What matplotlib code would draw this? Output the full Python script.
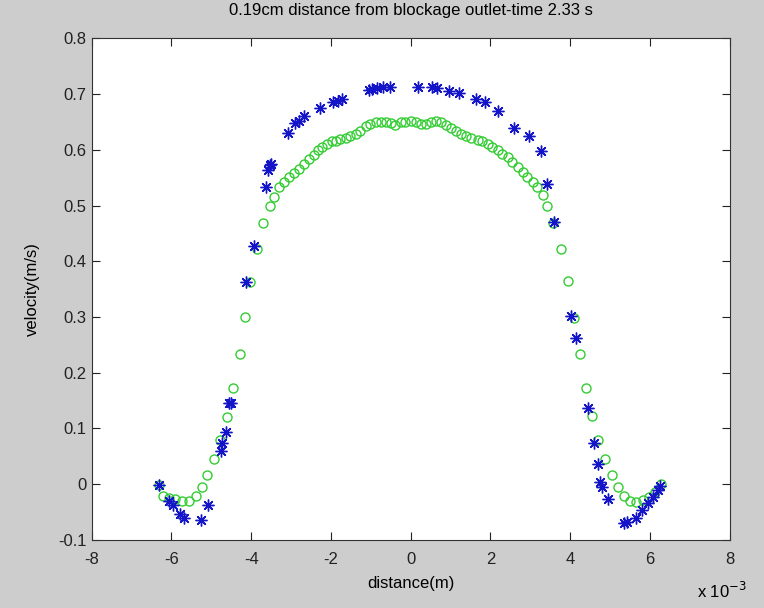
import matplotlib
matplotlib.use("Agg")
import matplotlib.pyplot as plt
from matplotlib.ticker import FuncFormatter

# distance in units of 1e-3 m, velocity in m/s
blue_x = [-6.32, -6.05, -5.96, -5.78, -5.68, -5.26, -5.08, -4.76, -4.73, -4.64,
          -4.56, -4.50, -4.12, -3.94, -3.64, -3.59, -3.54, -3.50, -3.08, -2.89,
          -2.81, -2.68, -2.28, -1.94, -1.83, -1.71, -1.05, -0.96, -0.84, -0.69,
          -0.52, 0.18, 0.54, 0.67, 0.96, 1.21, 1.63, 1.86, 2.18, 2.58,
          2.97, 3.27, 3.42, 3.59, 4.02, 4.15, 4.45, 4.61, 4.70, 4.76,
          4.81, 4.96, 5.36, 5.42, 5.65, 5.80, 5.95, 6.07, 6.20, 6.26]
blue_v = [-0.002, -0.030, -0.038, -0.054, -0.060, -0.065, -0.038, 0.060, 0.074, 0.094,
          0.145, 0.145, 0.363, 0.427, 0.534, 0.564, 0.572, 0.575, 0.630, 0.648,
          0.652, 0.661, 0.675, 0.685, 0.688, 0.691, 0.707, 0.709, 0.711, 0.712,
          0.712, 0.712, 0.713, 0.711, 0.706, 0.701, 0.691, 0.685, 0.670, 0.639,
          0.624, 0.597, 0.538, 0.470, 0.301, 0.262, 0.137, 0.074, 0.037, 0.004,
          -0.005, -0.027, -0.070, -0.068, -0.060, -0.047, -0.033, -0.023, -0.011, -0.004]

green_x = [-6.32, -6.21, -6.07, -5.90, -5.74, -5.56, -5.39, -5.24, -5.11, -4.94,
           -4.77, -4.61, -4.45, -4.29, -4.16, -4.02, -3.85, -3.70, -3.54, -3.42,
           -3.31, -3.18, -3.06, -2.93, -2.81, -2.68, -2.55, -2.43, -2.33, -2.22,
           -2.09, -1.97, -1.86, -1.76, -1.63, -1.51, -1.38, -1.26, -1.13, -1.01,
           -0.88, -0.75, -0.63, -0.50, -0.38, -0.25, -0.13, 0.00, 0.13, 0.25,
           0.38, 0.50, 0.63, 0.75, 0.88, 1.01, 1.13, 1.26, 1.38, 1.51,
           1.68, 1.80, 1.93, 2.05, 2.18, 2.30, 2.43, 2.55, 2.68, 2.81,
           2.93, 3.06, 3.18, 3.31, 3.43, 3.58, 3.77, 3.94, 4.10, 4.24,
           4.41, 4.55, 4.71, 4.88, 5.04, 5.19, 5.34, 5.51, 5.65, 5.82,
           5.99, 6.13, 6.28]
green_v = [-0.002, -0.021, -0.024, -0.027, -0.030, -0.030, -0.021, -0.005, 0.016, 0.045,
           0.079, 0.121, 0.173, 0.233, 0.300, 0.363, 0.422, 0.469, 0.499, 0.516,
           0.533, 0.542, 0.551, 0.558, 0.566, 0.575, 0.584, 0.591, 0.599, 0.605,
           0.611, 0.615, 0.616, 0.620, 0.621, 0.624, 0.628, 0.634, 0.642, 0.646,
           0.649, 0.650, 0.649, 0.648, 0.645, 0.649, 0.650, 0.652, 0.649, 0.646,
           0.647, 0.650, 0.652, 0.649, 0.645, 0.639, 0.634, 0.628, 0.624, 0.621,
           0.618, 0.615, 0.611, 0.605, 0.599, 0.593, 0.587, 0.578, 0.569, 0.560,
           0.551, 0.542, 0.533, 0.518, 0.500, 0.468, 0.422, 0.364, 0.299, 0.234,
           0.173, 0.122, 0.079, 0.045, 0.016, -0.005, -0.021, -0.030, -0.032, -0.029,
           -0.023, -0.014, 0.000]

plt.rcParams['font.family'] = ['Liberation Sans', 'DejaVu Sans']

fig = plt.figure(figsize=(7.64, 6.08), dpi=100, facecolor='#cdcdcd')
ax = fig.add_axes([0.120, 0.112, 0.835, 0.825])
ax.set_facecolor('white')

ax.plot([v * 1e-3 for v in green_x], green_v, 'o', mfc='none', mec='#33cc33',
        ms=6.5, mew=1.0, linestyle='none')
# MATLAB-style asterisk: 8 spokes
ax.plot([v * 1e-3 for v in blue_x], blue_v, marker=(8, 2, 0), color='#1414c8',
        ms=8.5, mew=1.0, linestyle='none')

ax.set_xlim(-8e-3, 8e-3)
ax.set_ylim(-0.1, 0.8)
ax.set_xticks([t * 1e-3 for t in range(-8, 9, 2)])
ax.set_yticks([round(-0.1 + 0.1 * i, 1) for i in range(10)])
ax.xaxis.set_major_formatter(FuncFormatter(lambda v, p: '%g' % round(v * 1e3, 6)))
ax.yaxis.set_major_formatter(FuncFormatter(lambda v, p: '%g' % round(v, 2)))
ax.tick_params(direction='in', length=6, width=0.8, top=True, right=True,
               labelsize=12, colors='#222222')
ax.tick_params(axis='x', pad=9)
for s in ax.spines.values():
    s.set_color('#333333')
    s.set_linewidth(0.8)

ax.set_title('0.19cm distance from blockage outlet-time 2.33 s', fontsize=12, pad=17)
ax.set_xlabel('distance(m)', fontsize=12, labelpad=6)
ax.set_ylabel('velocity(m/s)', fontsize=12, labelpad=13)
fig.text(0.912, 0.012, r'x 10$^{-3}$', fontsize=12, ha='left', va='bottom')

fig.savefig('out.png', dpi=100, facecolor=fig.get_facecolor())
